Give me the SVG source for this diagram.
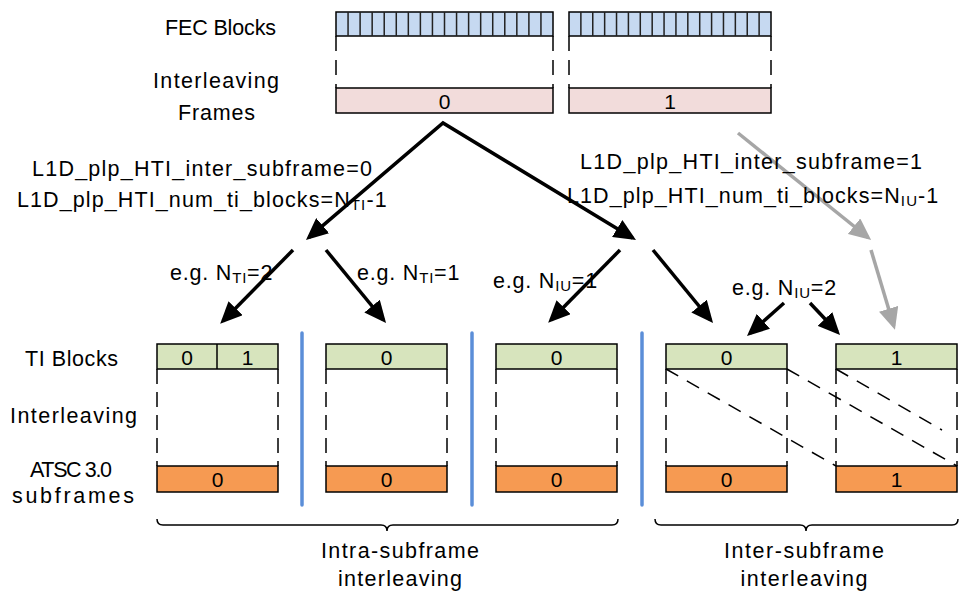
<svg xmlns="http://www.w3.org/2000/svg" width="960" height="595" viewBox="0 0 960 595">
<defs>
<style>
text{font-family:"Liberation Sans",Arial,sans-serif;font-size:21.5px;fill:#000}
.mid{text-anchor:middle}
.num{text-anchor:middle;font-size:21px}
.fec{fill:#C6D9F1;stroke:#000;stroke-width:1.5}
.cell{stroke:#222;stroke-width:1.5;fill:none}
.pink{fill:#F2DCDB;stroke:#000;stroke-width:1.5}
.green{fill:#D7E4BD;stroke:#000;stroke-width:1.5}
.orange{fill:#F69A52;stroke:#000;stroke-width:1.5}
.dash{stroke:#000;stroke-width:1.5;stroke-dasharray:15 9;fill:none}
.dash2{stroke:#000;stroke-width:1.5;stroke-dasharray:15 8;fill:none}
.diag{stroke:#000;stroke-width:1.5;stroke-dasharray:14 10;fill:none}
.blue{stroke:#5B8ED8;stroke-width:3.5;stroke-linecap:round}
.arr{stroke:#000;stroke-width:3.5;fill:none;marker-end:url(#ah)}
.garr{stroke:#A6A6A6;stroke-width:3.5;fill:none;marker-end:url(#gah)}
.brace{stroke:#000;stroke-width:1.5;fill:none}
.sub{font-size:15px}
</style>
<marker id="ah" markerUnits="userSpaceOnUse" markerWidth="22" markerHeight="20" viewBox="0 0 22 20" refX="18" refY="10" orient="auto-start-reverse"><path d="M0,0 L22,10 L0,20 z" fill="#000"/></marker>
<marker id="gah" markerUnits="userSpaceOnUse" markerWidth="22" markerHeight="20" viewBox="0 0 22 20" refX="18" refY="10" orient="auto"><path d="M0,0 L22,10 L0,20 z" fill="#A6A6A6"/></marker>
</defs>

<g id="labels">
<text class="mid" x="220.5" y="35" textLength="111">FEC Blocks</text>
<text class="mid" x="216" y="88" textLength="126">Interleaving</text>
<text class="mid" x="216.5" y="120" textLength="77">Frames</text>
<text class="mid" x="71.5" y="366" textLength="93">TI Blocks</text>
<text class="mid" x="73.5" y="423" textLength="127">Interleaving</text>
<text class="mid" x="71" y="477" textLength="82">ATSC 3.0</text>
<text class="mid" x="73" y="503" textLength="122">subframes</text>
</g>

<g id="fec0">
<rect class="fec" x="336" y="12" width="217" height="24"/>
<path class="cell" d="M348.06,12V36M360.11,12V36M372.17,12V36M384.22,12V36M396.28,12V36M408.33,12V36M420.39,12V36M432.44,12V36M444.5,12V36M456.56,12V36M468.61,12V36M480.67,12V36M492.72,12V36M504.78,12V36M516.83,12V36M528.89,12V36M540.94,12V36"/>
<path class="dash" d="M336,36V88M553,36V88"/>
<rect class="pink" x="336" y="88" width="217" height="25"/>
<text class="num" x="444.5" y="109">0</text>
</g>

<g id="fec1">
<rect class="fec" x="569" y="12" width="202" height="24"/>
<path class="cell" d="M580.88,12V36M592.76,12V36M604.65,12V36M616.53,12V36M628.41,12V36M640.29,12V36M652.18,12V36M664.06,12V36M675.94,12V36M687.82,12V36M699.71,12V36M711.59,12V36M723.47,12V36M735.35,12V36M747.24,12V36M759.12,12V36"/>
<path class="dash" d="M569,36V88M771,36V88"/>
<rect class="pink" x="569" y="88" width="202" height="25"/>
<text class="num" x="670" y="109">1</text>
</g>

<g id="connectors">
<path d="M309,237.4 L443,123 L632.6,237.9" stroke="#000" stroke-width="3.5" fill="none" stroke-linejoin="miter" marker-start="url(#ah)" marker-end="url(#ah)"/>
<path class="arr" d="M293,250 L223,321"/>
<path class="arr" d="M326,250 L383.5,320"/>
<path class="arr" d="M620,250 L551,320"/>
<path class="arr" d="M653,250 L710.5,320"/>
<path class="arr" d="M784,303 L750,333.3"/>
<path class="arr" d="M810,303 L837.3,332"/>
<path class="garr" d="M738,133 L868,237.5"/>
<path class="garr" d="M871,250 L893.8,326"/>
</g>

<g id="conditions">
<text x="32" y="176" textLength="340">L1D_plp_HTI_inter_subframe=0</text>
<text x="17" y="207" letter-spacing="1.1">L1D_plp_HTI_num_ti_blocks=N<tspan class="sub" dy="3">TI</tspan><tspan dy="-3">-1</tspan></text>
<text x="580" y="169" textLength="342">L1D_plp_HTI_inter_subframe=1</text>
<text x="567" y="203" letter-spacing="1.1">L1D_plp_HTI_num_ti_blocks=N<tspan class="sub" dy="3">IU</tspan><tspan dy="-3">-1</tspan></text>
<text x="170" y="280" letter-spacing="0.8">e.g. N<tspan class="sub" dy="3">TI</tspan><tspan dy="-3">=2</tspan></text>
<text x="357" y="280" letter-spacing="0.8">e.g. N<tspan class="sub" dy="3">TI</tspan><tspan dy="-3">=1</tspan></text>
<text x="493" y="288" letter-spacing="0.8">e.g. N<tspan class="sub" dy="3">IU</tspan><tspan dy="-3">=1</tspan></text>
<text x="732" y="295" letter-spacing="0.8">e.g. N<tspan class="sub" dy="3">IU</tspan><tspan dy="-3">=2</tspan></text>
</g>

<g id="separators">
<line class="blue" x1="302" y1="333" x2="302" y2="505"/>
<line class="blue" x1="472" y1="333" x2="472" y2="505"/>
<line class="blue" x1="642" y1="333" x2="642" y2="505"/>
</g>

<g id="group1">
<rect class="green" x="157" y="344" width="121" height="25"/>
<line x1="217" y1="344" x2="217" y2="369" stroke="#000" stroke-width="1.5"/>
<text class="num" x="187" y="365">0</text>
<text class="num" x="247.5" y="365">1</text>
<path class="dash2" d="M157,369V466M278,369V466"/>
<rect class="orange" x="157" y="466" width="121" height="26"/>
<text class="num" x="217.5" y="487">0</text>
</g>

<g id="group2">
<rect class="green" x="326" y="344" width="121" height="25"/>
<text class="num" x="386.5" y="365">0</text>
<path class="dash2" d="M326,369V466M447,369V466"/>
<rect class="orange" x="326" y="466" width="121" height="26"/>
<text class="num" x="386.5" y="487">0</text>
</g>

<g id="group3">
<rect class="green" x="496" y="344" width="121" height="25"/>
<text class="num" x="556.5" y="365">0</text>
<path class="dash2" d="M496,369V466M617,369V466"/>
<rect class="orange" x="496" y="466" width="121" height="26"/>
<text class="num" x="556.5" y="487">0</text>
</g>

<g id="group4">
<rect class="green" x="666" y="344" width="121" height="25"/>
<text class="num" x="726.5" y="365">0</text>
<path class="dash2" d="M666,369V466M787,369V466"/>
<rect class="orange" x="666" y="466" width="121" height="26"/>
<text class="num" x="726.5" y="487">0</text>
</g>

<g id="group5">
<rect class="green" x="836" y="344" width="121" height="25"/>
<text class="num" x="896.5" y="365">1</text>
<path class="dash2" d="M836,369V466M957,369V466"/>
<rect class="orange" x="836" y="466" width="121" height="26"/>
<text class="num" x="896.5" y="487">1</text>
</g>

<g id="diagonals">
<path class="diag" d="M666,369 L836,466"/>
<path class="diag" d="M787,369 L957,466"/>
<path class="diag" d="M836,369 L942,430"/>
</g>

<g id="braces">
<path class="brace" d="M157,519 Q157,525 163,525 L381,525 Q387,525 387,531 Q387,525 393,525 L612,525 Q618,525 618,519"/>
<path class="brace" d="M655,519 Q655,525 661,525 L800,525 Q806,525 806,531 Q806,525 812,525 L952,525 Q958,525 958,519"/>
<text class="mid" x="400" y="558" textLength="158">Intra-subframe</text>
<text class="mid" x="400" y="586" textLength="124">interleaving</text>
<text class="mid" x="804" y="558" textLength="160">Inter-subframe</text>
<text class="mid" x="804" y="586" textLength="127">interleaving</text>
</g>
</svg>
